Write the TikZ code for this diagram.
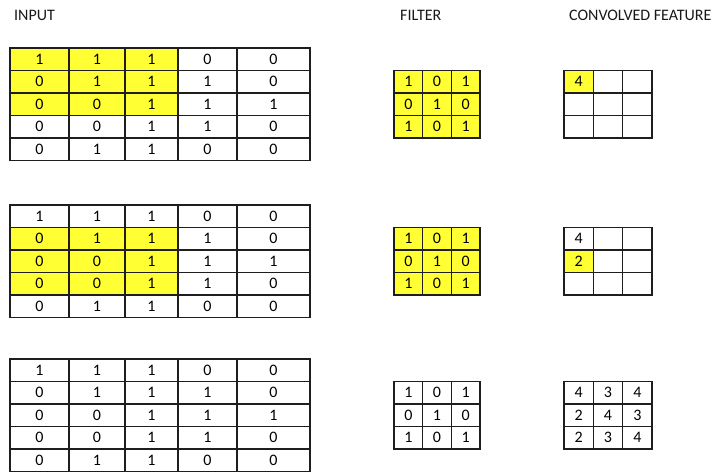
\documentclass[tikz,border=0pt]{standalone}
\usepackage{fontspec}
\setmainfont{Carlito}
\definecolor{hl}{RGB}{255,255,51}
\definecolor{gridline}{RGB}{30,30,30}
\begin{document}
\begin{tikzpicture}[x=1pt,y=-1pt,
  cellbox/.style={draw=gridline,line width=1.1pt,rectangle,inner sep=0pt,outer sep=0pt,
    minimum height=22.5pt,font=\fontsize{16}{19}\selectfont,text=black},
  heading/.style={anchor=base west,inner sep=0pt,font=\fontsize{16}{19}\selectfont,text=black!90}]
\useasboundingbox[fill=white] (0,0) rectangle (718,472);
% headings
\node[heading] (hin) at (14,20.7) {INPUT};
\node[heading] (hfi) at (400,20.7) {FILTER};
\node[heading] (hcf) at (569,20.7) {CONVOLVED FEATURE};
\def\inp{{1,1,1,0,0,0,1,1,1,0,0,0,1,1,1,0,0,1,1,0,0,1,1,0,0}}
\def\fil{{1,0,1,0,1,0,1,0,1}}
% input grids
\foreach \g/\top in {1/48,2/205,3/359}{
  \foreach \c/\xa/\xb in {1/10/69,2/69/125,3/125/178,4/178/237,5/237/310}{
    \foreach \r in {1,...,5}{
      \pgfmathtruncatemacro\v{\inp[(\r-1)*5+\c-1]}
      \pgfmathtruncatemacro\hlt{(\c<=3)*((\g==1)*(\r<=3)+(\g==2)*(\r>=2)*(\r<=4))}
      \ifnum\hlt=1 \def\fc{hl}\else\def\fc{white}\fi
      \node[cellbox,fill=\fc,minimum width={(\xb-\xa)*1pt}] (in\g-\r-\c)
        at ({(\xa+\xb)/2},{\top+(\r-0.5)*22.5}) {\v};
    }
  }
}
% filters
\foreach \g/\top in {1/70.5,2/227.5,3/381.5}{
  \foreach \r in {1,2,3}{
    \foreach \c in {1,2,3}{
      \pgfmathtruncatemacro\v{\fil[(\r-1)*3+\c-1]}
      \ifnum\g<3 \def\fc{hl}\else\def\fc{white}\fi
      \node[cellbox,fill=\fc,minimum width=28.67pt] (fi\g-\r-\c)
        at ({394+(\c-0.5)*28.67},{\top+(\r-0.5)*22.5}) {\v};
    }
  }
}
% convolved features
\def\cvA{{"4","","","","","","","",""}}
\def\cvB{{"4","","","2","","","","",""}}
\def\cvC{{"4","3","4","2","4","3","2","3","4"}}
\foreach \g/\top/\arr/\hx in {1/70.5/\cvA/1,2/227.5/\cvB/4,3/381.5/\cvC/0}{
  \foreach \r in {1,2,3}{
    \foreach \c in {1,2,3}{
      \pgfmathparse{\arr[(\r-1)*3+\c-1]}\let\v\pgfmathresult
      \pgfmathtruncatemacro\idx{(\r-1)*3+\c}
      \ifnum\idx=\hx \def\fc{hl}\else\def\fc{white}\fi
      \node[cellbox,fill=\fc,minimum width=29.33pt] (cf\g-\r-\c)
        at ({564+(\c-0.5)*29.33},{\top+(\r-0.5)*22.5}) {\v};
    }
  }
}
\end{tikzpicture}
\end{document}
